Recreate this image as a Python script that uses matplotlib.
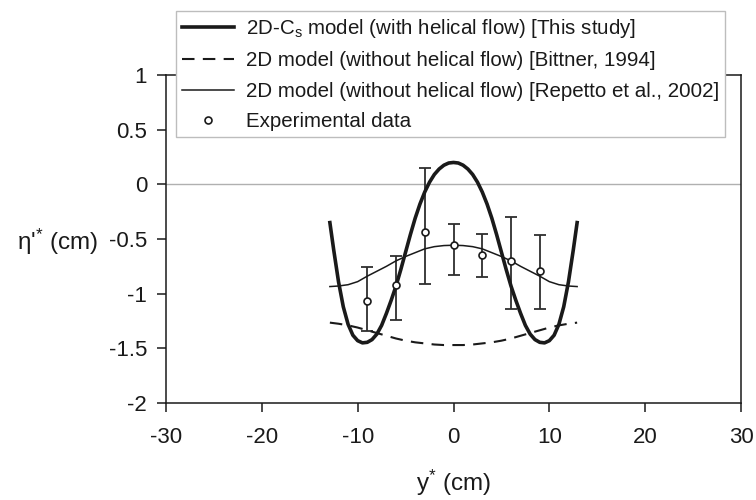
import matplotlib
matplotlib.use("Agg")
import matplotlib.pyplot as plt
from matplotlib.ticker import FuncFormatter

plt.rcParams['font.family'] = ['Liberation Sans', 'DejaVu Sans']
plt.rcParams['mathtext.fontset'] = 'custom'
plt.rcParams['mathtext.rm'] = 'Liberation Sans'
plt.rcParams['mathtext.it'] = 'Liberation Sans'
plt.rcParams['axes.unicode_minus'] = False

# 2D-Cs model (with helical flow)
cs_x = [-12.9, -12.5, -12, -11.5, -11, -10.5, -10, -9.5, -9, -8.5, -8, -7.5, -7,
        -6.5, -6, -5.5, -5, -4.5, -4, -3.5, -3, -2.5, -2, -1.5, -1, -0.5, 0,
        0.5, 1, 1.5, 2, 2.5, 3, 3.5, 4, 4.5, 5, 5.5, 6, 6.5, 7, 7.5, 8, 8.5,
        9, 9.5, 10, 10.5, 11, 11.5, 12, 12.5, 12.9]
cs_y = [-0.35, -0.60, -0.89, -1.12, -1.28, -1.38, -1.43, -1.45, -1.445, -1.42,
        -1.37, -1.29, -1.18, -1.06, -0.93, -0.78, -0.62, -0.46, -0.31, -0.18,
        -0.07, 0.02, 0.09, 0.14, 0.175, 0.195, 0.20,
        0.195, 0.175, 0.14, 0.09, 0.02, -0.07, -0.18, -0.31, -0.46, -0.62,
        -0.78, -0.93, -1.06, -1.18, -1.29, -1.37, -1.42, -1.445, -1.45, -1.43,
        -1.38, -1.28, -1.12, -0.89, -0.60, -0.35]

# 2D model [Bittner, 1994]
bit_x = [-12.9, -12, -11, -10, -9, -8, -7, -6, -5, -4, -3, -2, -1, 0,
         1, 2, 3, 4, 5, 6, 7, 8, 9, 10, 11, 12, 12.9]
bit_y = [-1.265, -1.275, -1.29, -1.31, -1.335, -1.36, -1.385, -1.41, -1.43,
         -1.445, -1.455, -1.465, -1.47, -1.47, -1.47, -1.465, -1.455, -1.445,
         -1.43, -1.41, -1.385, -1.36, -1.335, -1.31, -1.29, -1.275, -1.265]

# 2D model [Repetto et al., 2002]
rep_x = [-12.9, -12, -11, -10, -9, -8, -7, -6, -5, -4, -3, -2, -1, 0,
         1, 2, 3, 4, 5, 6, 7, 8, 9, 10, 11, 12, 12.9]
rep_y = [-0.935, -0.93, -0.918, -0.89, -0.84, -0.795, -0.75, -0.70, -0.66,
         -0.625, -0.59, -0.57, -0.56, -0.557, -0.56, -0.57, -0.59, -0.625,
         -0.66, -0.70, -0.75, -0.795, -0.84, -0.89, -0.918, -0.93, -0.935]

# measurements with error bar limits
exp_x = [-9, -6, -3, 0, 3, 6, 9]
exp_y = [-1.067, -0.923, -0.436, -0.555, -0.643, -0.704, -0.792]
exp_hi = [-0.76, -0.655, 0.153, -0.36, -0.451, -0.299, -0.46]
exp_lo = [-1.344, -1.243, -0.914, -0.832, -0.847, -1.136, -1.136]

fig = plt.figure(figsize=(7.56, 5), dpi=100)
ax = fig.add_axes([166 / 756, 97 / 500, 575 / 756, 328 / 500])

fs_leg = 14.8
fs_tick = 16
fs_lab = 17.5
ink = '#1a1a1a'

ax.axhline(0, color='#b0b0b0', lw=1.0, zorder=1)

yerr = [[y - lo for y, lo in zip(exp_y, exp_lo)],
        [hi - y for y, hi in zip(exp_y, exp_hi)]]
ax.errorbar(exp_x, exp_y, yerr=yerr, fmt='none', ecolor='#2e2e2e',
            elinewidth=1.3, capsize=4, capthick=1.3, zorder=2)

ax.plot(cs_x, cs_y, color=ink, lw=2.6, zorder=3,
        label='2D-C$_\\mathrm{s}$ model (with helical flow) [This study]')
ax.plot(bit_x, bit_y, color=ink, lw=1.5, dashes=(6, 4), zorder=3,
        label='2D model (without helical flow) [Bittner, 1994]')
ax.plot(rep_x, rep_y, color=ink, lw=1.1, zorder=3,
        label='2D model (without helical flow) [Repetto et al., 2002]')
ax.plot(exp_x, exp_y, 'o', ms=5, mfc='white', mec=ink, mew=1.2, zorder=4,
        label='Experimental data')

ax.set_xlim(-30, 30)
ax.set_ylim(-2, 1)
ax.set_xticks(range(-30, 31, 10))
ax.set_yticks([-2, -1.5, -1, -0.5, 0, 0.5, 1])
ax.yaxis.set_major_formatter(FuncFormatter(lambda v, p: '%g' % v))

for s in ax.spines.values():
    s.set_color(ink)
    s.set_linewidth(1.1)
ax.tick_params(axis='both', direction='out', length=6.5, width=1.1,
               color=ink, labelsize=fs_tick, labelcolor=ink)
ax.tick_params(axis='y', pad=7)
ax.tick_params(axis='x', pad=10.5)

ax.set_ylabel("η'$^{*}$ (cm)", fontsize=fs_lab, color=ink, rotation=0,
              ha='right', va='center')
ax.yaxis.set_label_coords(-0.118, 0.49)
ax.set_xlabel('y$^{*}$ (cm)', fontsize=fs_lab, color=ink, va='center')
ax.xaxis.set_label_coords(0.5, -0.243)

leg = ax.legend(loc='upper left', bbox_to_anchor=(176 / 756, 1 - 11 / 500),
                bbox_transform=fig.transFigure, borderaxespad=0,
                fontsize=fs_leg, frameon=True, fancybox=False, framealpha=1,
                handlelength=2.5, handletextpad=0.6, labelspacing=0.55,
                borderpad=0.3)
leg.get_frame().set_edgecolor('#bdbdbd')
leg.get_frame().set_linewidth(1.0)
for t in leg.get_texts():
    t.set_color(ink)
leg.set_zorder(10)

fig.savefig('out.png', dpi=100, facecolor='white')
